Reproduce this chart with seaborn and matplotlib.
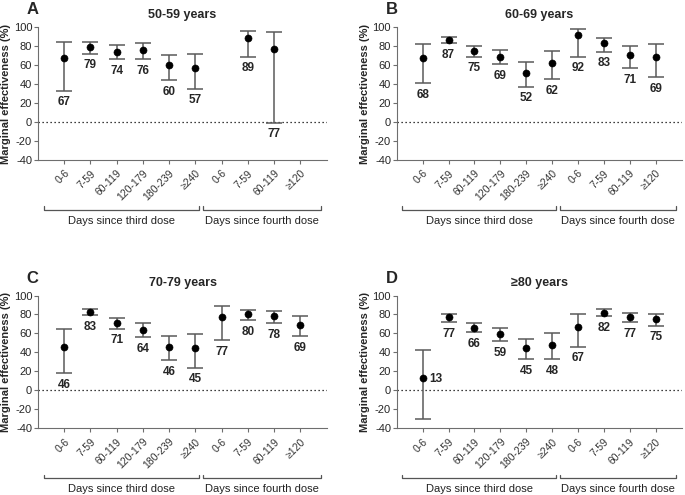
import numpy as np
import matplotlib
matplotlib.use("Agg")
import matplotlib.pyplot as plt
import matplotlib.transforms as mtransforms
import seaborn as sns

# categories
intervals = ["0-6", "7-59", "60-119", "120-179", "180-239", "\u2265240",
             "0-6", "7-59", "60-119", "\u2265120"]
groups = ["Days since third dose", "Days since fourth dose"]
n_third = 6

titles = ["50-59 years", "60-69 years", "70-79 years", "\u226580 years"]
letters = ["A", "B", "C", "D"]

nan = np.nan
# estimates and 95% CI
est_a = [67, 79, 74, 76, 60, 57, nan, 89, 77, nan]
lo_a = [33, 72, 66, 66, 44, 35, nan, 69, -1, nan]
hi_a = [84, 84, 81, 83, 71, 72, nan, 96, 95, nan]

est_b = [68, 87, 75, 69, 52, 62, 92, 83, 71, 69]
lo_b = [41, 83, 69, 61, 37, 45, 69, 74, 57, 47]
hi_b = [82, 90, 80, 76, 63, 75, 98, 89, 80, 82]

est_c = [46, 83, 71, 64, 46, 45, 77, 80, 78, 69]
lo_c = [18, 79, 65, 56, 32, 24, 53, 74, 71, 57]
hi_c = [65, 86, 76, 71, 57, 59, 89, 85, 84, 78]

est_d = [13, 77, 66, 59, 45, 48, 67, 82, 77, 75]
lo_d = [-30, 72, 61, 52, 33, 33, 46, 78, 72, 68]
hi_d = [42, 80, 71, 66, 54, 60, 80, 86, 82, 81]

panels = [(est_a, lo_a, hi_a), (est_b, lo_b, hi_b),
          (est_c, lo_c, hi_c), (est_d, lo_d, hi_d)]

sns.set_style("ticks")
plt.rcParams["font.family"] = ["Liberation Sans", "DejaVu Sans"]
plt.rcParams["axes.unicode_minus"] = False

fig = plt.figure(figsize=(6.85, 4.95), dpi=100)
boxes = [[0.056, 0.677, 0.421, 0.268], [0.580, 0.677, 0.415, 0.268],
         [0.056, 0.135, 0.421, 0.268], [0.580, 0.135, 0.415, 0.268]]

spine_col = "#6e6e6e"
bar_col = "#5a5a5a"

for k, (est, lo, hi) in enumerate(panels):
    ax = fig.add_axes(boxes[k])
    x = np.arange(len(intervals))
    est = np.array(est, float)
    lo = np.array(lo, float)
    hi = np.array(hi, float)
    ok = ~np.isnan(est)

    ax.axhline(0, color="black", ls=(0, (1, 2.2)), lw=0.9, zorder=1)
    ax.errorbar(x[ok], est[ok], yerr=[est[ok] - lo[ok], hi[ok] - est[ok]],
                fmt="none", ecolor=bar_col, elinewidth=1.1, capsize=5.5,
                capthick=1.1, zorder=2)
    sns.scatterplot(x=x[ok], y=est[ok], ax=ax, color="black", s=26,
                    edgecolor="black", zorder=3, legend=False)

    for xi, e, l in zip(x[ok], est[ok], lo[ok]):
        if e - l > 40 and l < -10:
            ax.annotate(f"{e:.0f}", (xi, e), xytext=(5, -1), textcoords="offset points",
                        ha="left", va="center", fontsize=8.5, fontweight="bold")
        else:
            ax.annotate(f"{e:.0f}", (xi, l), xytext=(0, -4), textcoords="offset points",
                        ha="center", va="top", fontsize=8.5, fontweight="bold")

    ax.set_xlim(-0.98, 10.0)
    ax.set_ylim(-40, 100)
    ax.set_yticks(np.arange(-40, 101, 20))
    ax.set_xticks(x)
    ax.set_xticklabels(intervals, rotation=45, ha="right", rotation_mode="anchor",
                       fontsize=7.5, color="#333333")
    ax.tick_params(axis="y", labelsize=8, length=3, color=spine_col, pad=1.5)
    ax.tick_params(axis="x", length=3, color=spine_col, pad=3)
    sns.despine(ax=ax)
    for s in ["left", "bottom"]:
        ax.spines[s].set_color(spine_col)
    ax.set_ylabel("Marginal effectiveness (%)", fontsize=8, fontweight="bold", labelpad=2)
    ax.set_title(titles[k], fontsize=9, fontweight="bold", pad=7)
    ax.text(-0.02, 1.13, letters[k], transform=ax.transAxes, fontsize=12,
            fontweight="bold", ha="center", va="center")

    # group brackets under the axis
    tr = mtransforms.blended_transform_factory(ax.transData, ax.transAxes)
    spans = [(-0.78, n_third - 0.85), (n_third - 0.7, len(intervals) - 0.23)]
    for (a, b), g in zip(spans, groups):
        ax.plot([a, a, b, b], [-0.35, -0.376, -0.376, -0.35], transform=tr,
                color="#555555", lw=0.9, clip_on=False)
        ax.text((a + b) / 2, -0.46, g, transform=tr, ha="center", va="center",
                fontsize=8, color="#222222")

fig.savefig("out.png", dpi=100)
